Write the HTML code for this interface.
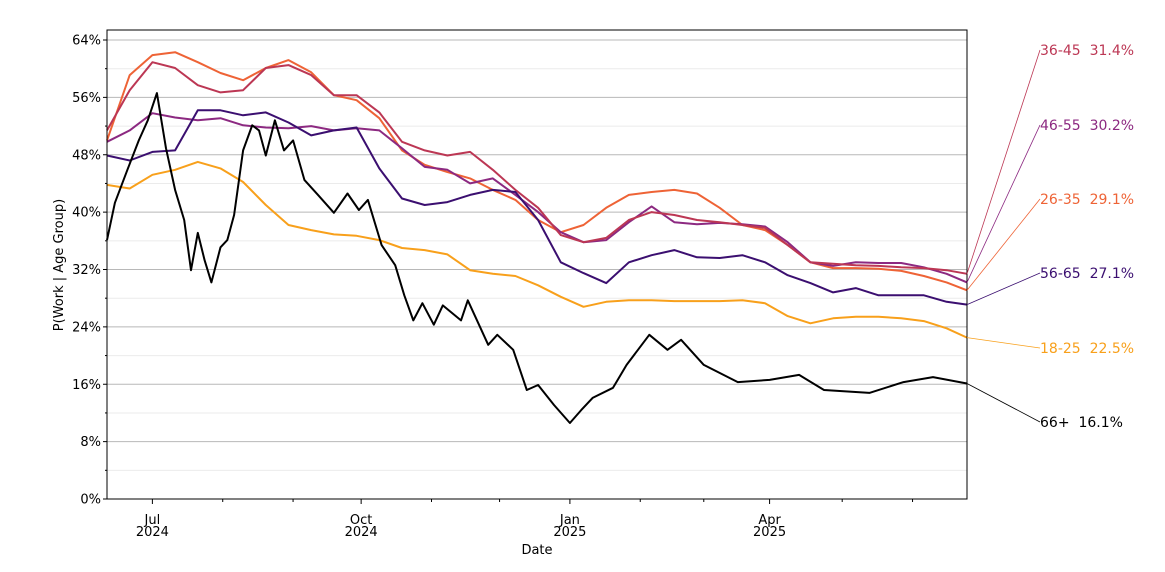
<!DOCTYPE html>
<html><head><meta charset="utf-8"><style>
body{margin:0;background:#fff;font-family:"Liberation Sans","DejaVu Sans",sans-serif;}
svg text{font-family:"DejaVu Sans","Liberation Sans",sans-serif;white-space:pre;}
</style></head><body>
<svg id="chart" width="1165" height="567" viewBox="0 0 1165 567" xmlns="http://www.w3.org/2000/svg"></svg>
<script>
// day offsets from 2024-06-11
const days = [0,10,20,30,40,50,60,70,80,90,100,110,120,130,140,150,160,170,180,190,200,210,220,230,240,250,260,270,280,290,300,310,320,330,340,350,360,370,379];
const days66 = [0,3.5,9,14,18,22,26,30,34,37,40,43,46,50,53,56,60,64,67,70,74,78,82,87,93,100,106,111,115,121,127,131,135,139,144,148,156,159,168,172,179,185,190,197,204,209,214,223,229,239,247,253,263,278,292,305,316,336,351,364,379];
const seriesNames = ["18-25","26-35","36-45","46-55","56-65","66+"];
const seriesColors = ["#f8a01b","#ee6336","#bc3754","#8c2981","#3b0f70","#000000"];
const v1825 = [43.8,43.3,45.2,45.9,47.0,46.1,44.2,41.0,38.2,37.5,36.9,36.7,36.1,35.0,34.7,34.1,31.9,31.4,31.1,29.8,28.2,26.8,27.5,27.7,27.7,27.6,27.6,27.6,27.7,27.3,25.5,24.5,25.2,25.4,25.4,25.2,24.8,23.8,22.5];
const v2635 = [50.0,59.1,61.9,62.3,60.9,59.4,58.4,60.1,61.2,59.5,56.3,55.6,53.1,48.6,46.6,45.6,44.7,43.1,41.7,38.9,37.2,38.2,40.6,42.4,42.8,43.1,42.6,40.6,38.2,37.5,35.4,33.0,32.2,32.2,32.1,31.8,31.1,30.2,29.1];
const v3645 = [51.4,57.0,60.9,60.1,57.7,56.7,57.0,60.1,60.5,59.1,56.3,56.3,53.9,49.8,48.6,47.9,48.4,45.9,43.1,40.6,36.8,35.8,36.4,38.9,40.0,39.6,38.9,38.6,38.2,37.8,35.4,33.0,32.8,32.6,32.5,32.3,32.2,31.9,31.4];
const v4655 = [49.8,51.4,53.8,53.2,52.8,53.1,52.1,51.8,51.7,52.0,51.4,51.7,51.4,48.9,46.3,45.9,44.0,44.7,42.4,40.0,37.2,35.8,36.1,38.6,40.8,38.6,38.3,38.5,38.3,38.0,35.8,33.0,32.5,33.0,32.9,32.9,32.3,31.4,30.2];
const v5665 = [47.9,47.2,48.4,48.6,54.2,54.2,53.5,53.9,52.5,50.7,51.4,51.8,46.1,41.9,41.0,41.4,42.4,43.1,42.8,38.9,33.0,31.5,30.1,33.0,34.0,34.7,33.7,33.6,34.0,33.0,31.2,30.1,28.8,29.4,28.4,28.4,28.4,27.5,27.1];
const v66 = [36.1,41.3,45.9,50.0,52.8,56.6,48.9,43.1,38.9,31.9,37.1,33.3,30.2,35.1,36.1,39.6,48.6,52.1,51.4,47.9,52.8,48.6,50.0,44.5,42.4,39.9,42.6,40.3,41.7,35.4,32.6,28.4,24.9,27.3,24.3,27.0,24.9,27.7,21.5,22.9,20.8,15.2,15.9,13.1,10.6,12.4,14.1,15.5,18.7,22.9,20.8,22.2,18.7,16.3,16.6,17.3,15.2,14.8,16.3,17.0,16.1];
const yTicks = [0,8,16,24,32,40,48,56,64];
const yMinor = [4,12,20,28,36,44,52,60];
const xMajorDays = [20,204,112,292];
const xMajorLabels = [["Jul","2024"],["Jan","2025"],["Oct","2024"],["Apr","2025"]];
const xMinorDays = [51,82,143,173,235,263,324,355];
const labelY = [348,199,50,125,273,422];

const NS="http://www.w3.org/2000/svg";
const svg=document.getElementById('chart');
const L=107,R=967,T=30,B=499,maxDay=379;
const xs=d=>L+d*(R-L)/maxDay;
const ys=v=>B-v*(B-40)/64;
function mk(tag,attrs,parent){const e=document.createElementNS(NS,tag);for(const k in attrs)e.setAttribute(k,attrs[k]);(parent||svg).appendChild(e);return e;}

const grid=mk('g',{});


yMinor.forEach(v=>{const l=mk('line',{x1:L,x2:R,y1:ys(v),y2:ys(v),stroke:'#ebebeb','stroke-width':1},grid);

});
yTicks.forEach(v=>{const l=mk('line',{x1:L,x2:R,y1:ys(v),y2:ys(v),stroke:'#b8b8b8','stroke-width':1},grid);

});

const yax=mk('g',{});


yTicks.forEach(v=>{mk('line',{x1:L-4,x2:L,y1:ys(v),y2:ys(v),stroke:'#000'},yax);
const t=mk('text',{x:L-6,y:ys(v)+4.5,'text-anchor':'end','font-size':13,fill:'#000'},yax);t.textContent=v+'%';

});
yMinor.forEach(v=>mk('line',{x1:L-2,x2:L,y1:ys(v),y2:ys(v),stroke:'#000'},yax));
const yt=mk('text',{x:0,y:0,transform:'translate(63,265) rotate(-90)','text-anchor':'middle','font-size':13},svg);
yt.textContent='P(Work | Age Group)';



const xax=mk('g',{});


xMajorDays.forEach((d,i)=>{mk('line',{x1:xs(d),x2:xs(d),y1:B,y2:B+5,stroke:'#000'},xax);
const t=mk('text',{x:xs(d),y:B+25,'text-anchor':'middle','font-size':13},xax);


const a=mk('tspan',{x:xs(d),dy:0},t);a.textContent=xMajorLabels[i][0];
const b=mk('tspan',{x:xs(d),dy:12},t);b.textContent=xMajorLabels[i][1];});
xMinorDays.forEach(d=>mk('line',{x1:xs(d),x2:xs(d),y1:B,y2:B+3,stroke:'#000'},xax));
const xt=mk('text',{x:537,y:554,'text-anchor':'middle','font-size':13},svg);
xt.textContent='Date';



const allVals=[v1825,v2635,v3645,v4655,v5665,v66];
const allDays=[days,days,days,days,days,days66];
const order=[0,1,3,2,4,5];
order.forEach(i=>{const vals=allVals[i];const dd=allDays[i];
const p=mk('polyline',{points:dd.map((d,j)=>xs(d).toFixed(1)+','+ys(vals[j]).toFixed(1)).join(' '),fill:'none',stroke:seriesColors[i],'stroke-width':2,'stroke-linejoin':'round'});

});

mk('rect',{x:L,y:T,width:R-L,height:B-T,fill:'none',stroke:'#000','stroke-width':1});

seriesNames.forEach((n,i)=>{const vals=allVals[i];const last=vals[vals.length-1];
const c=mk('line',{x1:R,y1:ys(last),x2:1040,y2:labelY[i],stroke:seriesColors[i],'stroke-width':0.8});


const t=mk('text',{x:1040,y:labelY[i]+5,'font-size':14,fill:seriesColors[i]});
t.textContent=n+'\u00a0\u00a0'+last.toFixed(1)+'%';

});
</script>
</body></html>
